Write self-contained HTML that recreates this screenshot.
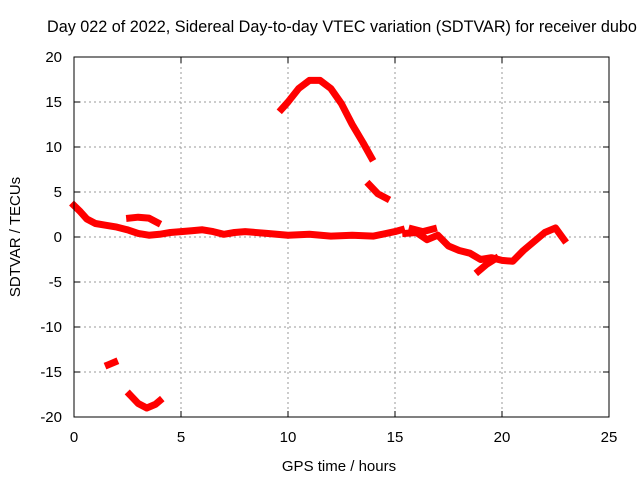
<!DOCTYPE html>
<html><head><meta charset="utf-8"><style>
body{margin:0;background:#fff;overflow:hidden;}
svg{display:block;font-family:"Liberation Sans",sans-serif;}
</style></head><body>
<svg id="chart" width="640" height="480">
<text x="47" y="32" font-size="16.2" text-anchor="start">Day 022 of 2022, Sidereal Day-to-day VTEC variation (SDTVAR) for receiver dubo</text>
<text x="339" y="471" font-size="15" text-anchor="middle">GPS time / hours</text>
<text x="20" y="237" font-size="15" text-anchor="middle" transform="rotate(-90 20 237)">SDTVAR / TECUs</text>
<g id="grid"></g><g id="ticks"></g><g id="marks"></g>
<rect x="74" y="57" width="535" height="360" fill="none" stroke="#000" stroke-width="1"/>
</svg>
<script>
const xTicks=[0,5,10,15,20,25];
const yTicks=[-20,-15,-10,-5,0,5,10,15,20];
const mainT=[0,0.3,0.6,1,1.5,2,2.5,3,3.5,4,4.5,5,5.5,6,6.5,7,7.5,8,9,10,11,12,13,14,15,15.3];
const mainV=[3.5,2.8,2.0,1.5,1.3,1.1,0.8,0.4,0.2,0.3,0.5,0.6,0.7,0.8,0.6,0.3,0.5,0.6,0.4,0.2,0.3,0.1,0.2,0.1,0.6,0.8];
const bumpT=[2.6,3.0,3.5,3.9];
const bumpV=[2.1,2.2,2.1,1.6];
const lateT=[15.5,16,16.5,17,17.5,18,18.5,19,19.5,20,20.5,21,21.5,22,22.5,22.9];
const lateV=[0.4,0.5,-0.3,0.2,-1.0,-1.5,-1.8,-2.5,-2.3,-2.6,-2.7,-1.5,-0.5,0.5,1.0,-0.3];
const loopT=[15.8,16.3,16.8];
const loopV=[0.9,0.6,0.9];
const dipT=[18.9,19.3,19.7];
const dipV=[-3.8,-3.0,-2.4];
const arcT=[9.7,10,10.5,11,11.5,12,12.5,13,13.5,13.9];
const arcV=[14.2,15.0,16.5,17.4,17.4,16.5,14.8,12.5,10.5,8.8];
const tailT=[13.8,14.2,14.6];
const tailV=[5.8,4.8,4.3];
const shortT=[1.6,1.9];
const shortV=[-14.2,-13.9];
const lowT=[2.6,3.0,3.4,3.8,4.0];
const lowV=[-17.5,-18.5,-19,-18.6,-18.2];

const X=t=>74+t*535/25, Y=v=>237-v*9;
const NS="http://www.w3.org/2000/svg";
const grid=document.getElementById('grid'),ticks=document.getElementById('ticks'),marks=document.getElementById('marks');
function mk(tag,attrs,parent){const e=document.createElementNS(NS,tag);for(const k in attrs)e.setAttribute(k,attrs[k]);parent.appendChild(e);return e;}
xTicks.forEach(t=>{
  if(t>0&&t<25){const g=mk('line',{x1:X(t),x2:X(t),y1:57,y2:417,stroke:'#999','stroke-dasharray':'2,3'},grid);
  
  }
  mk('line',{x1:X(t),x2:X(t),y1:417,y2:411,stroke:'#000'},ticks);
  mk('line',{x1:X(t),x2:X(t),y1:57,y2:63,stroke:'#000'},ticks);
  const l=mk('text',{x:X(t),y:442,'font-size':15,'text-anchor':'middle'},ticks);l.textContent=t;
  
  
});
yTicks.forEach(v=>{
  if(v>-20&&v<20){const g=mk('line',{x1:74,x2:609,y1:Y(v),y2:Y(v),stroke:'#999','stroke-dasharray':'2,3'},grid);
  
  }
  mk('line',{x1:74,x2:80,y1:Y(v),y2:Y(v),stroke:'#000'},ticks);
  mk('line',{x1:609,x2:603,y1:Y(v),y2:Y(v),stroke:'#000'},ticks);
  const l=mk('text',{x:62,y:Y(v)+5,'font-size':15,'text-anchor':'end'},ticks);l.textContent=v;
  
  
});
function series(T,V,name){
  const p=mk('polyline',{points:T.map((t,i)=>X(t)+','+Y(V[i])).join(' '),fill:'none',stroke:'#f00','stroke-width':7,'stroke-linejoin':'round','stroke-linecap':'square'},marks);
  
  
}
series(mainT,mainV,'series-main');
series(bumpT,bumpV,'series-bump');
series(lateT,lateV,'series-late');
series(loopT,loopV,'series-loop');
series(dipT,dipV,'series-dip');
series(arcT,arcV,'series-arc');
series(tailT,tailV,'series-tail');
series(shortT,shortV,'series-short');
series(lowT,lowV,'series-low');
</script>
</body></html>
